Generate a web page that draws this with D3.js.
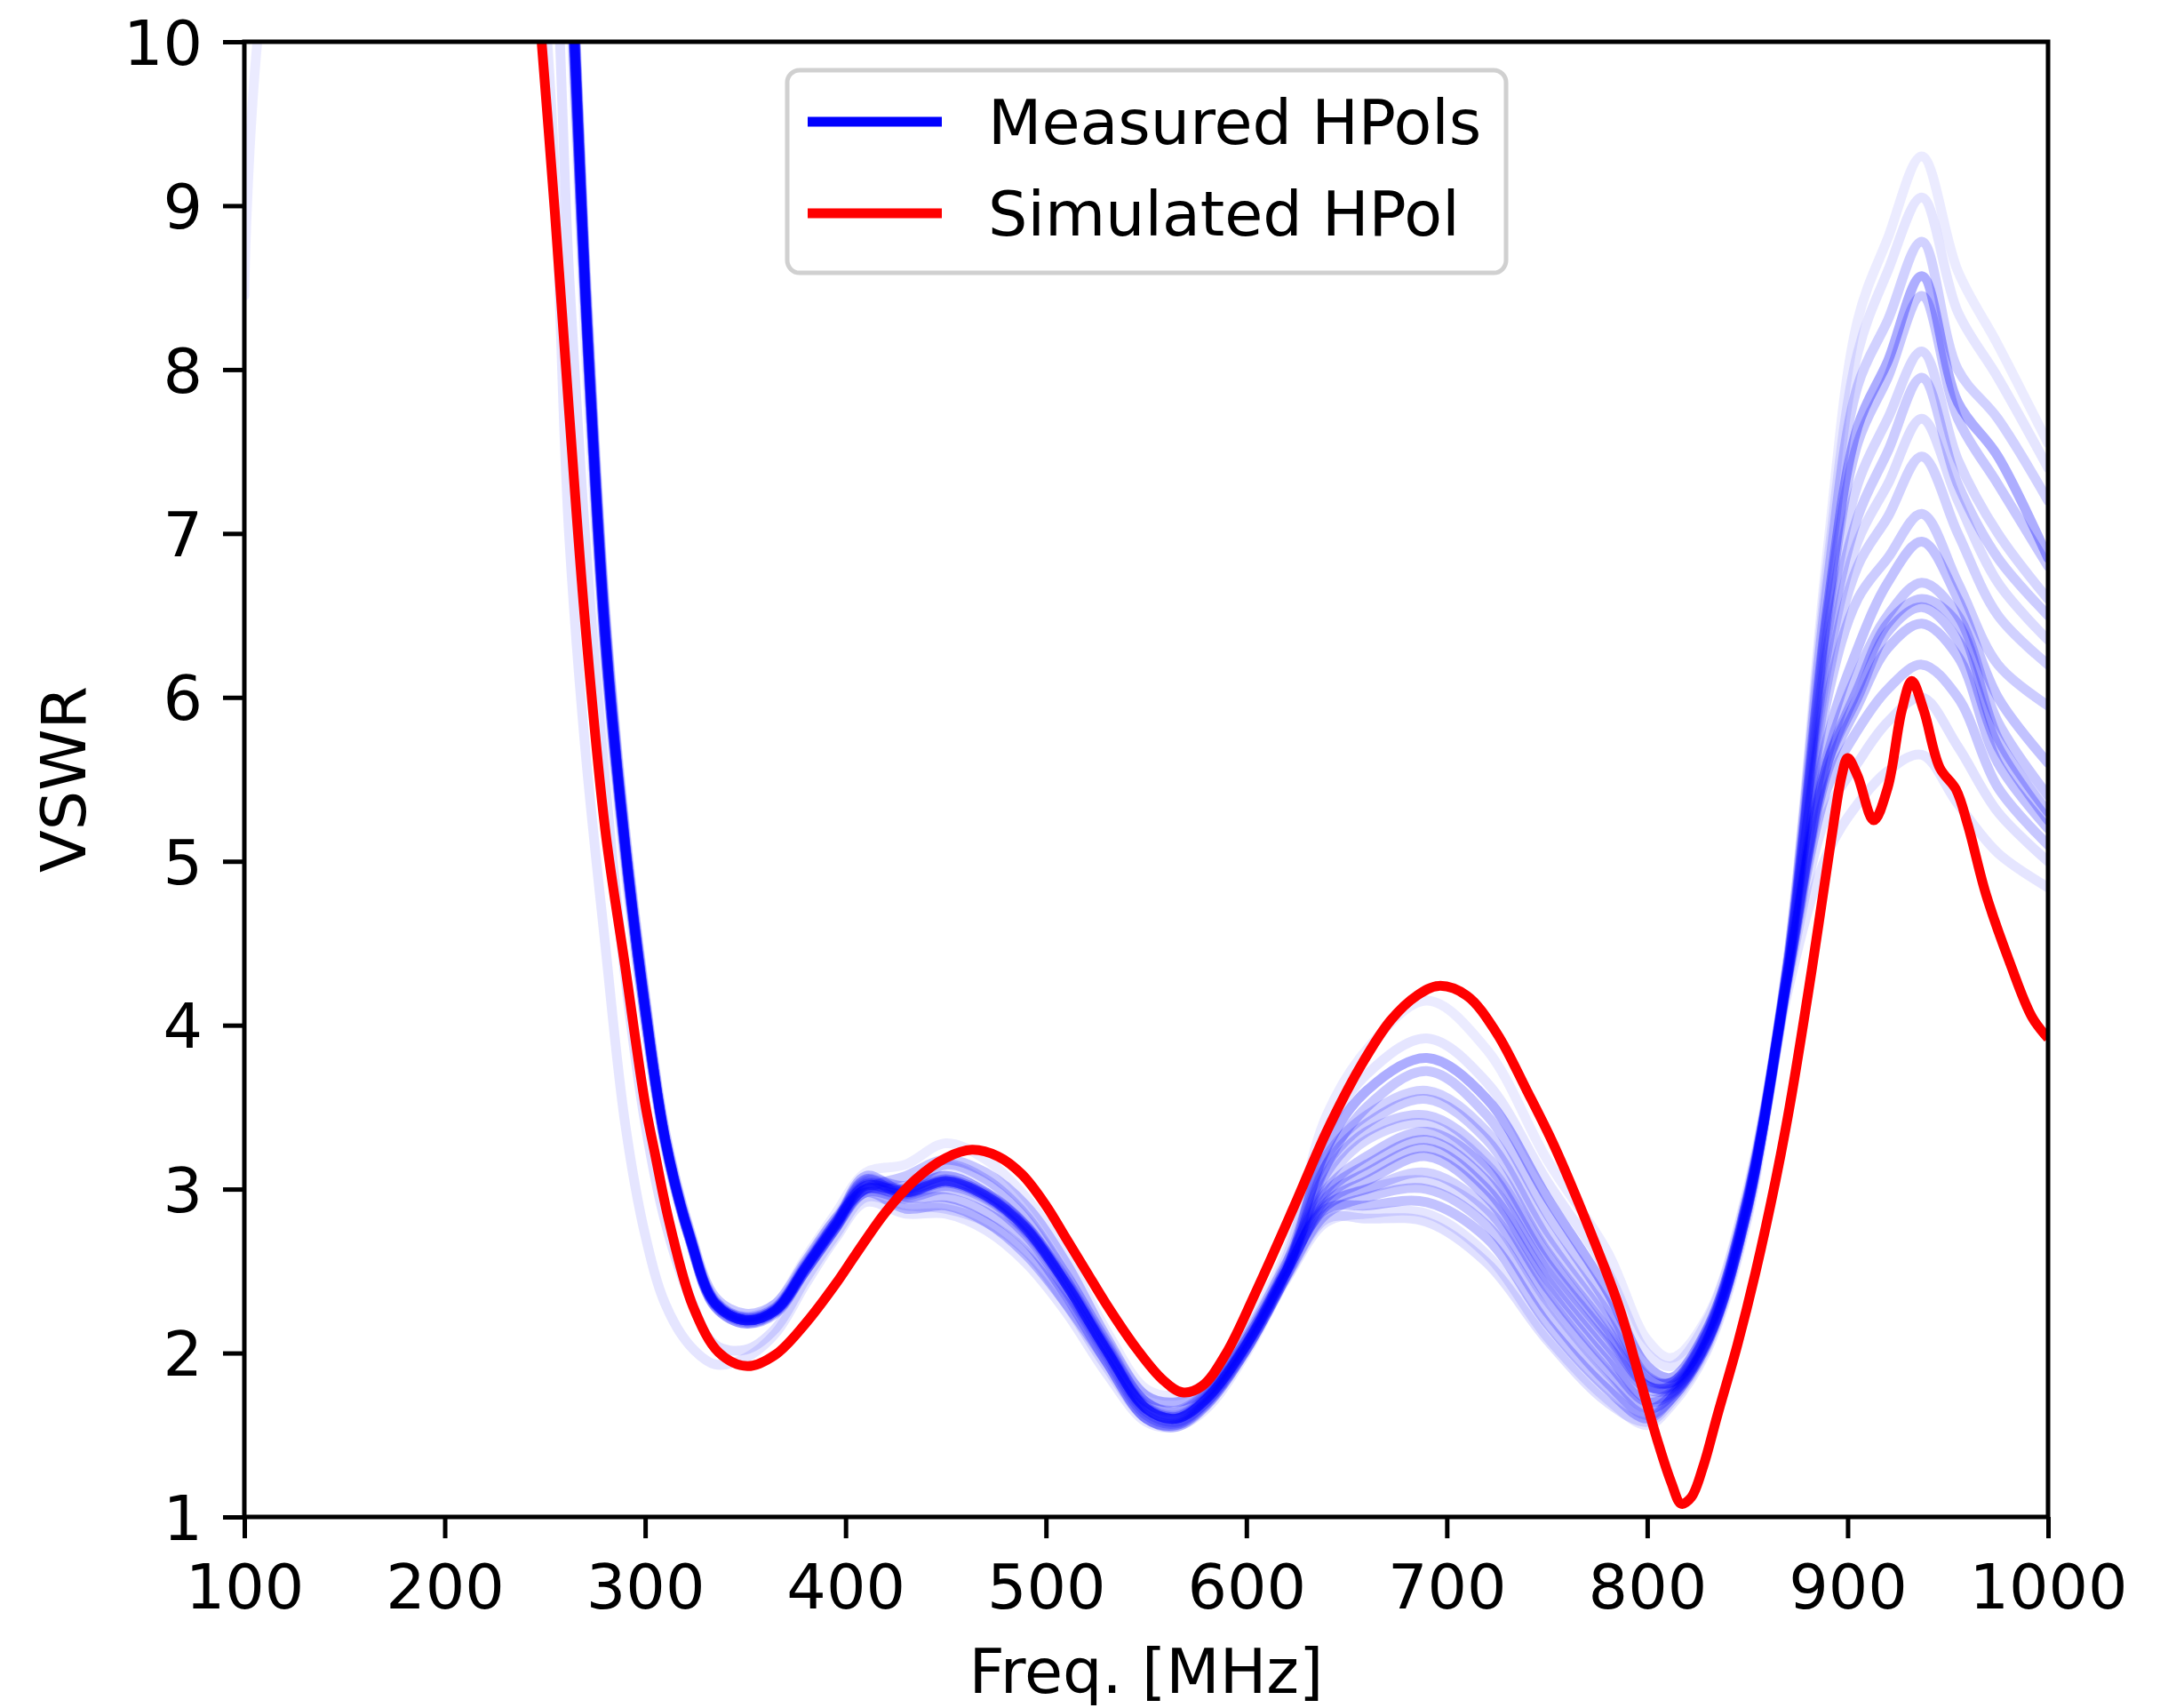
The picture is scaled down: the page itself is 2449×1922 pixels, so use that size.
<!DOCTYPE html>
<html>
<head>
<meta charset="utf-8">
<script src="https://cdn.jsdelivr.net/npm/d3@7"></script>
<style>
  body { margin: 0; background: #fff; }
  svg { display: block; font-family: "DejaVu Sans", sans-serif; }
</style>
</head>
<body>
<svg id="chart" width="2449" height="1922"></svg>
<script>
// Frequency grid (MHz) shared by all the measured traces
const freqGrid = [100,110,200,250,262,270,280,290,300,310,
  322,335,350,365,380,395,410,430,450,470,
  490,510,530,550,565,580,600,620,640,660,
  690,720,750,780,800,812,830,850,870,890,
  905,920,937,955,975,1000];

// Measured HPol VSWR traces, one list per antenna
const measured = [
  [8.45,10.4,16,13.0,10.4,8.2,6.2,4.95,4.0,3.25,
   2.7,2.3,2.22,2.3,2.58,2.85,3.1,3.15,3.28,3.18,
   2.95,2.6,2.14,1.78,1.74,1.82,2.15,2.62,3.45,3.85,
   4.15,3.85,3.18,2.62,2.08,1.97,2.22,3.0,4.4,6.9,
   8.3,8.8,9.3,8.6,8.15,7.55],
  [16,16,16,13.5,10.8,8.5,6.4,5.1,4.1,3.3,
   2.72,2.3,2.2,2.26,2.52,2.78,3.02,2.98,3.05,2.96,
   2.76,2.42,2.02,1.66,1.6,1.72,2.05,2.5,3.25,3.6,
   3.8,3.55,2.95,2.38,1.92,1.85,2.15,2.95,4.35,6.55,
   7.65,8.05,8.57,7.8,7.47,6.85],
  [16,16,16,13.2,10.6,8.4,6.3,5.05,4.05,3.28,
   2.7,2.28,2.18,2.25,2.5,2.76,3.06,2.95,3.0,2.92,
   2.72,2.38,1.98,1.62,1.57,1.7,2.03,2.48,3.15,3.5,
   3.72,3.45,2.85,2.3,1.86,1.82,2.12,2.92,4.3,6.5,
   7.55,7.95,8.45,7.7,7.3,6.8],
  [16,16,16,13.6,10.9,8.6,6.5,5.15,4.15,3.32,
   2.74,2.32,2.22,2.28,2.54,2.8,3.0,3.0,3.08,2.98,
   2.78,2.45,2.05,1.7,1.64,1.75,2.08,2.52,2.98,3.15,
   3.3,3.05,2.5,2.05,1.78,1.78,2.08,2.88,4.3,5.6,
   6.05,6.45,6.6,6.45,5.75,5.3],
  [16,16,16,13.4,10.7,8.5,6.35,5.08,4.1,3.3,
   2.73,2.31,2.21,2.27,2.53,2.8,3.05,3.02,3.15,3.06,
   2.84,2.48,2.07,1.7,1.65,1.76,2.08,2.54,3.2,3.45,
   3.6,3.35,2.75,2.25,1.85,1.82,2.14,2.95,4.38,6.7,
   7.9,8.3,8.78,8.0,7.7,7.2],
  [16,16,16,13.5,10.8,8.5,6.4,5.1,4.1,3.3,
   2.72,2.3,2.2,2.26,2.5,2.76,3.0,2.96,3.02,2.94,
   2.74,2.4,2.0,1.64,1.58,1.7,2.04,2.5,3.1,3.35,
   3.45,3.2,2.62,2.15,1.8,1.8,2.12,2.93,4.35,6.3,
   7.1,7.5,7.95,7.3,6.85,6.5],
  [16,16,16,13.7,11.0,8.7,6.55,5.2,4.18,3.35,
   2.76,2.34,2.24,2.3,2.56,2.82,3.0,3.08,3.18,3.1,
   2.9,2.55,2.1,1.74,1.7,1.78,2.1,2.55,3.0,3.2,
   3.35,3.12,2.55,2.1,1.8,1.79,2.1,2.9,4.3,5.65,
   6.15,6.5,6.7,6.5,5.85,5.4],
  [16,16,16,13.3,10.6,8.4,6.3,5.02,4.05,3.27,
   2.7,2.28,2.18,2.24,2.5,2.76,2.98,2.94,2.95,2.86,
   2.68,2.35,1.95,1.6,1.56,1.69,2.02,2.47,2.95,3.1,
   3.25,3.0,2.45,2.0,1.72,1.76,2.08,2.9,4.32,5.75,
   6.3,6.7,6.95,6.6,6.0,5.6],
  [16,16,16,13.5,10.8,8.5,6.4,5.1,4.1,3.3,
   2.72,2.3,2.2,2.26,2.52,2.78,3.0,2.97,3.04,2.95,
   2.75,2.42,2.02,1.66,1.6,1.72,2.05,2.5,2.92,3.05,
   3.2,2.95,2.4,1.95,1.7,1.75,2.07,2.88,4.28,5.55,
   5.95,6.3,6.45,6.25,5.6,5.2],
  [16,16,16,13.6,10.9,8.6,6.45,5.12,4.12,3.31,
   2.73,2.31,2.21,2.27,2.53,2.79,3.03,2.99,3.06,2.97,
   2.77,2.43,2.03,1.67,1.61,1.73,2.06,2.5,2.9,3.0,
   3.1,2.88,2.35,1.9,1.66,1.74,2.08,2.9,4.3,6.1,
   6.8,7.1,7.47,7.0,6.5,6.2],
  [16,16,16,13.4,10.7,8.45,6.35,5.06,4.08,3.29,
   2.71,2.29,2.19,2.25,2.51,2.77,2.98,2.88,2.9,2.8,
   2.6,2.3,1.95,1.6,1.55,1.68,2.02,2.47,2.85,2.95,
   3.0,2.78,2.25,1.82,1.62,1.72,2.06,2.88,4.28,5.45,
   5.8,6.05,6.2,6.0,5.45,5.1],
  [16,16,16,10.2,7.0,5.7,4.5,3.4,2.72,2.3,
   2.05,1.93,1.97,2.12,2.42,2.7,2.92,2.85,2.85,2.75,
   2.55,2.25,1.88,1.58,1.55,1.66,2.0,2.45,2.8,2.85,
   2.85,2.6,2.1,1.72,1.56,1.68,2.02,2.82,4.2,5.05,
   5.35,5.55,5.65,5.35,5.05,4.84],
  [16,16,16,13.5,10.8,8.5,6.4,5.1,4.1,3.3,
   2.72,2.3,2.2,2.26,2.52,2.78,3.08,2.98,3.05,2.96,
   2.76,2.42,2.02,1.66,1.6,1.72,2.05,2.5,2.88,2.9,
   2.92,2.7,2.18,1.78,1.6,1.72,2.06,2.88,4.3,5.6,
   6.0,6.4,6.55,6.35,5.7,5.25],
  [16,16,16,11.5,8.6,7.0,5.5,4.3,3.4,2.8,
   2.35,2.05,2.02,2.15,2.45,2.72,2.95,2.9,2.88,2.8,
   2.62,2.3,1.92,1.6,1.56,1.68,2.02,2.46,2.82,2.82,
   2.8,2.55,2.08,1.7,1.58,1.7,2.04,2.85,4.25,5.3,
   5.6,5.85,6.0,5.7,5.3,5.0],
  [16,16,16,13.5,10.8,8.55,6.42,5.1,4.1,3.3,
   2.72,2.3,2.2,2.26,2.52,2.8,3.04,3.0,3.08,2.98,
   2.78,2.44,2.04,1.68,1.62,1.74,2.06,2.52,3.05,3.3,
   3.4,3.15,2.6,2.12,1.8,1.8,2.12,2.92,4.34,6.4,
   7.3,7.7,8.11,7.45,7.0,6.6],
  [16,16,16,13.5,10.8,8.5,6.4,5.1,4.1,3.3,
   2.72,2.3,2.2,2.26,2.52,2.78,3.02,2.98,3.05,2.96,
   2.76,2.42,2.02,1.66,1.6,1.72,2.05,2.5,3.15,3.4,
   3.55,3.3,2.7,2.2,1.84,1.82,2.13,2.93,4.35,6.0,
   6.6,6.85,7.12,6.7,6.2,5.95],
  [16,16,16,13.3,10.6,8.4,6.3,5.05,4.05,3.28,
   2.7,2.29,2.2,2.27,2.55,2.82,3.06,3.02,3.14,3.04,
   2.82,2.48,2.08,1.74,1.7,1.79,2.12,2.58,3.35,3.7,
   3.92,3.65,3.05,2.5,2.0,1.92,2.2,2.98,4.38,6.8,
   8.1,8.6,9.05,8.35,7.95,7.4],
  [16,16,16,13.6,10.9,8.6,6.45,5.12,4.12,3.31,
   2.73,2.31,2.21,2.27,2.53,2.79,3.03,2.99,3.06,2.97,
   2.77,2.43,2.03,1.67,1.61,1.73,2.06,2.5,2.9,3.0,
   3.05,2.85,2.32,1.88,1.66,1.74,2.08,2.9,4.32,6.2,
   6.95,7.3,7.7,7.2,6.7,6.35]
];
// how strong each trace shows up (the plot uses translucent lines)
const measuredAlpha = [0.08,0.32,0.22,0.24,0.18,0.2,0.22,0.24,0.24,0.18,0.22,0.1,0.24,0.12,0.16,0.2,0.1,0.14];

// Simulated HPol
const simFreq = [230,240,248,255,262,270,280,290,300,305,
  312,324,337,351,365,380,395,405,420,435,
  450,463,476,488,500,510,520,530,545,558,
  568,578,590,605,624,640,657,672,685,696,
  710,725,740,753,768,786,795,805,812,817,
  822,828,835,845,854,864,871,882,892,897,
  900,905,913,920,927,932,938,946,954,960,
  969,981,992,1000];
const simVswr = [12.6,11.3,10.05,8.95,7.75,6.46,5.2,4.36,3.52,3.21,
  2.8,2.28,2.0,1.92,1.99,2.18,2.42,2.6,2.86,3.06,
  3.19,3.24,3.2,3.09,2.9,2.7,2.5,2.3,2.03,1.84,
  1.76,1.8,2.0,2.38,2.9,3.35,3.75,4.03,4.18,4.24,
  4.18,3.95,3.6,3.28,2.85,2.28,1.9,1.47,1.21,1.08,
  1.12,1.31,1.62,2.05,2.49,3.05,3.5,4.33,5.15,5.52,
  5.63,5.52,5.25,5.45,5.92,6.1,5.92,5.57,5.44,5.22,
  4.8,4.38,4.05,3.92];

const xTicks = [100,200,300,400,500,600,700,800,900,1000];
const yTicks = [1,2,3,4,5,6,7,8,9,10];
const legendLabels = ["Measured HPols", "Simulated HPol"];
const legendColors = ["#0000ff", "#ff0000"];

drawChart();

function drawChart(){
  const svg = d3.select("#chart");
  const margin = {left: 275, top: 47, right: 2305, bottom: 1707};
  const fontSize = 70;

  const x = d3.scaleLinear().domain([100, 1000]).range([margin.left, margin.right]);
  const y = d3.scaleLinear().domain([1, 10]).range([margin.bottom, margin.top]);

  // clip the lines to the axes box
  svg.append("clipPath").attr("id", "plotClip")
    .append("rect")
    .attr("x", margin.left).attr("y", margin.top)
    .attr("width", margin.right - margin.left)
    .attr("height", margin.bottom - margin.top);

  const line = d3.line()
    .x(d => x(d[0]))
    .y(d => y(d[1]))
    .curve(d3.curveCatmullRom.alpha(0.5));

  const plot = svg.append("g").attr("clip-path", "url(#plotClip)");

  // measured traces
  plot.selectAll(".measured")
    .data(measured)
    .enter().append("path")
    .attr("class", "measured")
    .attr("d", vals => line(vals.map((v, i) => [freqGrid[i], v])))
    .attr("fill", "none")
    .attr("stroke", "#0000ff")
    .attr("stroke-opacity", (d, i) => measuredAlpha[i])
    .attr("stroke-width", 11)
    .attr("stroke-linejoin", "round")
    .attr("stroke-linecap", "round");

  // simulated trace
  plot.append("path")
    .attr("d", line(simFreq.map((f, i) => [f, simVswr[i]])))
    .attr("fill", "none")
    .attr("stroke", "#ff0000")
    .attr("stroke-width", 11)
    .attr("stroke-linejoin", "round");

  // x axis
  const gx = svg.append("g")
    .attr("transform", "translate(0," + margin.bottom + ")")
    .call(d3.axisBottom(x).tickValues(xTicks).tickSize(24).tickPadding(29).tickFormat(d3.format("d")));
  // y axis
  const gy = svg.append("g")
    .attr("transform", "translate(" + margin.left + ",0)")
    .call(d3.axisLeft(y).tickValues(yTicks).tickSize(24).tickPadding(23).tickFormat(d3.format("d")));

  [gx, gy].forEach(g => {
    g.select(".domain").remove();
    g.attr("font-family", "DejaVu Sans").attr("font-size", fontSize);
    g.selectAll(".tick line").attr("stroke", "#000").attr("stroke-width", 5);
    g.selectAll(".tick text").attr("fill", "#000");
  });
  gy.selectAll(".tick text").attr("dy", "0.36em");

  // frame (spines)
  svg.append("rect")
    .attr("x", margin.left).attr("y", margin.top)
    .attr("width", margin.right - margin.left)
    .attr("height", margin.bottom - margin.top)
    .attr("fill", "none")
    .attr("stroke", "#000")
    .attr("stroke-width", 5)
    .attr("stroke-linejoin", "miter");

  // axis labels
  svg.append("text")
    .attr("x", (margin.left + margin.right) / 2)
    .attr("y", 1905)
    .attr("text-anchor", "middle")
    .attr("font-size", fontSize)
    .text("Freq. [MHz]");

  svg.append("text")
    .attr("transform", "translate(96," + (margin.top + margin.bottom) / 2 + ") rotate(-90)")
    .attr("text-anchor", "middle")
    .attr("font-size", fontSize)
    .text("VSWR");

  // legend
  const legend = svg.append("g");
  legend.append("rect")
    .attr("x", 886).attr("y", 79)
    .attr("width", 809).attr("height", 228)
    .attr("rx", 14).attr("ry", 14)
    .attr("fill", "#fff").attr("fill-opacity", 0.8)
    .attr("stroke", "#d0d0d0")
    .attr("stroke-width", 5);

  const rowY = [137, 240];
  legendLabels.forEach((label, i) => {
    legend.append("line")
      .attr("x1", 909).attr("x2", 1060)
      .attr("y1", rowY[i]).attr("y2", rowY[i])
      .attr("stroke", legendColors[i])
      .attr("stroke-width", 11);
    legend.append("text")
      .attr("x", 1112)
      .attr("y", rowY[i] + 25)
      .attr("font-size", fontSize)
      .text(label);
  });
}
</script>
</body>
</html>
